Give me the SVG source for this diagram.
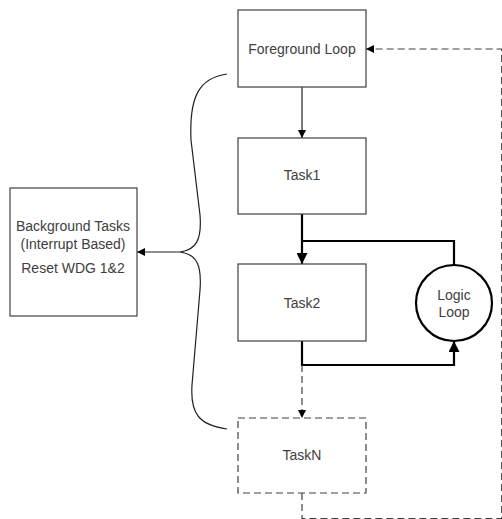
<svg xmlns="http://www.w3.org/2000/svg" width="502" height="519" viewBox="0 0 502 519">
<style>
.box{fill:#fff;stroke:#404040;stroke-width:1.2}
.dbox{fill:#fff;stroke:#404040;stroke-width:1.2;stroke-dasharray:7,4}
.t{font-family:"Liberation Sans",Arial,sans-serif;font-size:14px;fill:#404040;text-anchor:middle}
.thin{fill:none;stroke:#202020;stroke-width:1.2}
.thick{fill:none;stroke:#000;stroke-width:2.2}
.dash{fill:none;stroke:#404040;stroke-width:1.2;stroke-dasharray:7,4}
</style>
<defs>
<marker id="a" viewBox="0 0 10 10" refX="10" refY="5" markerWidth="8" markerHeight="8" markerUnits="userSpaceOnUse" orient="auto"><path d="M0,0 L10,5 L0,10 z" fill="#000"/></marker>
<marker id="ab" viewBox="0 0 10 10" refX="10" refY="5" markerWidth="11" markerHeight="11" markerUnits="userSpaceOnUse" orient="auto"><path d="M0,0 L10,5 L0,10 z" fill="#000"/></marker>
</defs>
<g id="connectors">
<path class="thin" d="M302,87 L302,138" marker-end="url(#a)"/>
<path class="thick" d="M302,214 L302,264" marker-end="url(#ab)"/>
<path class="thick" d="M302,241 L454,241 L454,265"/>
<path class="thick" d="M302,341 L302,365 L454,365 L454,341" marker-end="url(#ab)"/>
<path class="dash" d="M302,365 L302,418" marker-end="url(#a)"/>
<path class="dash" d="M302,493 L302,518.6 L501.7,518.6 L501.7,49 L366,49" marker-end="url(#a)"/>
<path class="thin" d="M227,74 C200,78 189,95 191,140 L200,215 C202,240 196,250 180,252 C196,254 202,264 200,290 L192,385 C190,415 200,425 227,429"/>
<path class="thin" d="M180,252 L137,252" marker-end="url(#a)"/>
</g>
<g id="foreground">
<rect class="box" x="238" y="10" width="128" height="77"/>
<text class="t" x="302" y="54">Foreground Loop</text>
</g>
<g id="task1">
<rect class="box" x="238" y="138" width="128" height="76"/>
<text class="t" x="302" y="180">Task1</text>
</g>
<g id="task2">
<rect class="box" x="238" y="264" width="128" height="77"/>
<text class="t" x="302" y="308">Task2</text>
</g>
<g id="taskN">
<rect class="dbox" x="238" y="418" width="128" height="75"/>
<text class="t" x="302" y="460">TaskN</text>
</g>
<g id="logic">
<circle cx="454" cy="303" r="38" fill="#fff" stroke="#000" stroke-width="2.2"/>
<text class="t" x="454" y="300">Logic</text>
<text class="t" x="454" y="317">Loop</text>
</g>
<g id="background">
<rect class="box" x="10" y="188" width="127" height="128"/>
<text class="t" x="73" y="231">Background Tasks</text>
<text class="t" x="73" y="249">(Interrupt Based)</text>
<text class="t" x="73" y="273">Reset WDG 1&amp;2</text>
</g>
</svg>
